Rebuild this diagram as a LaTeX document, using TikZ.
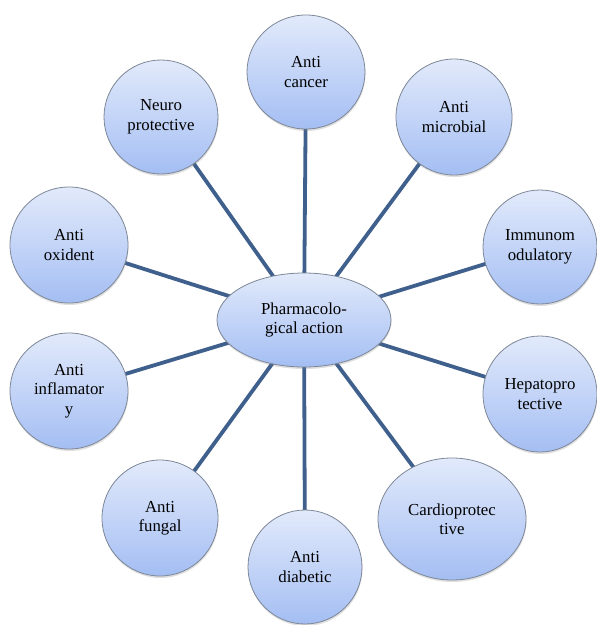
\documentclass[tikz,border=0pt]{standalone}
\usepackage{fontspec}
\setmainfont{Liberation Serif}
\usetikzlibrary{shapes.geometric,shadows,backgrounds}
\definecolor{linkc}{HTML}{3F5F8C}
\definecolor{topc}{HTML}{E2EAFB}
\definecolor{botc}{HTML}{A4BEF3}
\definecolor{edgec}{HTML}{7D8797}
\tikzset{
  bubble/.style={ellipse, draw=edgec, line width=0.8pt, top color=topc, bottom color=botc,
    align=center, font=\fontsize{16.8}{19.5}\selectfont, inner sep=0pt,
    drop shadow={opacity=0.25, shadow xshift=0.5pt, shadow yshift=-2pt}},
  link/.style={draw=linkc, line width=3.8pt}
}
\begin{document}
\begin{tikzpicture}[x=1pt,y=-1pt]
\useasboundingbox (0,0) rectangle (597,625);
\node[bubble, minimum width=174pt, minimum height=94pt] (c) at (304,320) {Pharmacolo-\\gical action};
\node[bubble, minimum width=118pt, minimum height=114pt] (n1) at (306,72) {Anti\\cancer};
\node[bubble, minimum width=116pt, minimum height=116pt] (n2) at (454,117) {Anti\\microbial};
\node[bubble, minimum width=114pt, minimum height=114pt] (n3) at (540,247) {Immunom\\odulatory};
\node[bubble, minimum width=114pt, minimum height=116pt] (n4) at (540,394) {Hepatopro\\tective};
\node[bubble, minimum width=148pt, minimum height=122pt] (n5) at (452,519) {Cardioprotec\\tive};
\node[bubble, minimum width=114pt, minimum height=114pt] (n6) at (305,567) {Anti\\diabetic};
\node[bubble, minimum width=116pt, minimum height=116pt] (n7) at (160,518) {Anti\\fungal};
\node[bubble, minimum width=118pt, minimum height=116pt] (n8) at (69,391) {Anti\\inflamator\\y};
\node[bubble, minimum width=118pt, minimum height=116pt] (n9) at (69,245) {Anti\\oxident};
\node[bubble, minimum width=114pt, minimum height=114pt] (n10) at (161,117) {Neuro\\protective};
\begin{scope}[on background layer]
\foreach \i in {1,...,10} \draw[link] (c.center) -- (n\i.center);
\end{scope}
\end{tikzpicture}
\end{document}
